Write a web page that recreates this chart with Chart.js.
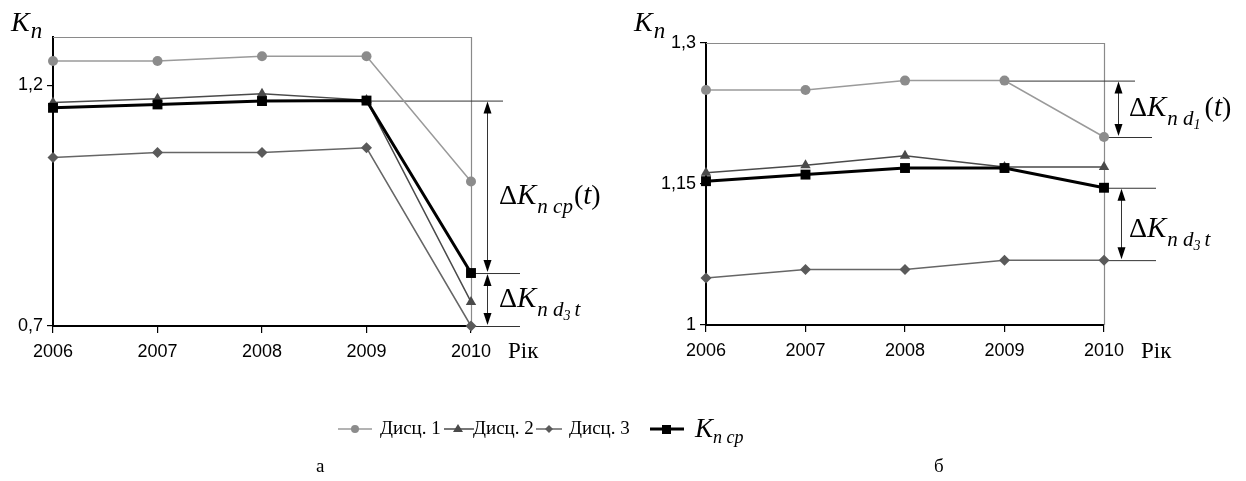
<!DOCTYPE html>
<html>
<head>
<meta charset="utf-8">
<script src="https://cdn.jsdelivr.net/npm/chart.js@4/dist/chart.umd.min.js"></script>
<style>
  body { margin: 0; background: #fff; }
  #page { position: relative; width: 1246px; height: 481px; overflow: hidden; font-family: 'Liberation Serif', serif; }
  canvas { position: absolute; top: 0; }
  .leg { position: absolute; top: 415px; font-size: 19px; line-height: 26px; color: #000; white-space: nowrap; }
  .leg svg { position: absolute; top: 0; }
  .cap { position: absolute; top: 455px; font-size: 19px; }
</style>
</head>
<body>
<div id="page">
  <canvas id="chartA" width="623" height="481" style="left:0"></canvas>
  <canvas id="chartB" width="623" height="481" style="left:623px"></canvas>

  <div class="leg" style="left:337px"><svg width="36" height="26"><line x1="1" y1="14" x2="35" y2="14" stroke="#9a9a9a" stroke-width="1.5"/><circle cx="18" cy="14" r="4" fill="#8c8c8c"/></svg><span style="margin-left:43px">Дисц. 1</span></div>
  <div class="leg" style="left:443px"><svg width="32" height="26"><line x1="1" y1="14" x2="31" y2="14" stroke="#4a4a4a" stroke-width="1.5"/><polygon points="15,9 20,17 10,17" fill="#4a4a4a"/></svg><span style="margin-left:30px">Дисц. 2</span></div>
  <div class="leg" style="left:535px"><svg width="28" height="26"><line x1="1" y1="14" x2="27" y2="14" stroke="#666" stroke-width="1.5"/><polygon points="14,10 18,14 14,18 10,14" fill="#5a5a5a"/></svg><span style="margin-left:34px">Дисц. 3</span></div>
  <div class="leg" style="left:649px"><svg width="36" height="26"><line x1="1" y1="14" x2="35" y2="14" stroke="#000" stroke-width="3"/><rect x="13" y="10" width="9" height="9" fill="#000"/></svg><span style="margin-left:46px;font-style:italic;font-size:27px">K<sub style="font-size:18px">n cp</sub></span></div>

  <div class="cap" style="left:316px">а</div>
  <div class="cap" style="left:934px">б</div>
</div>

<script>
const years = ['2006', '2007', '2008', '2009', '2010'];

// chart "а"
const disc1A = [1.25, 1.25, 1.26, 1.26, 1.0];
const disc2A = [1.164, 1.172, 1.182, 1.169, 0.75];
const disc3A = [1.05, 1.06, 1.06, 1.07, 0.7];
const avgA = [1.153, 1.16, 1.167, 1.168, 0.81];
const ticksA = [0.7, 1.2];

// chart "б"
const disc1B = [1.25, 1.25, 1.26, 1.26, 1.2];
const disc2B = [1.162, 1.17, 1.18, 1.168, 1.168];
const disc3B = [1.05, 1.059, 1.059, 1.069, 1.069];
const avgB = [1.153, 1.16, 1.167, 1.167, 1.146];
const ticksB = [1, 1.15, 1.3];

const SERIF = "'Liberation Serif', serif";

function series(d1, d2, d3, avg) {
  return [
    { label: 'Дисц. 1', data: d1, borderColor: '#9a9a9a', backgroundColor: '#8c8c8c', borderWidth: 1.5,
      pointStyle: 'circle', pointRadius: 5, pointBorderWidth: 0, order: 3, clip: false },
    { label: 'Дисц. 2', data: d2, borderColor: '#4a4a4a', backgroundColor: '#4a4a4a', borderWidth: 1.5,
      pointStyle: 'triangle', pointRadius: 6, pointBorderWidth: 0, order: 2, clip: false },
    { label: 'Дисц. 3', data: d3, borderColor: '#666', backgroundColor: '#5a5a5a', borderWidth: 1.5,
      pointStyle: 'rectRot', pointRadius: 5.5, pointBorderWidth: 0, order: 1, clip: false },
    { label: 'Kп ср', data: avg, borderColor: '#000', backgroundColor: '#000', borderWidth: 3,
      pointStyle: 'rect', pointRadius: 7, pointBorderWidth: 0, order: 0, clip: false }
  ]
}

// rich text: list of [text, font, dy, extraGap]
function rich(ctx, x, y, parts) {
  ctx.textAlign = 'left'
  ctx.textBaseline = 'alphabetic'
  parts.forEach(p => {
    ctx.font = p[1]
    ctx.fillText(p[0], x, y + (p[2] || 0))
    x += ctx.measureText(p[0]).width + (p[3] || 0)
  })
}

function hline(ctx, y, x1, x2) {
  ctx.beginPath()
  ctx.moveTo(x1, y + 0.5)
  ctx.lineTo(x2, y + 0.5)
  ctx.stroke()
}

function arrow(ctx, x, y1, y2) {
  ctx.save()
  ctx.strokeStyle = '#333'
  ctx.lineWidth = 1
  ctx.beginPath()
  ctx.moveTo(x + 0.5, y1 + 10)
  ctx.lineTo(x + 0.5, y2 - 10)
  ctx.stroke()
  ctx.fillStyle = '#000'
  ctx.beginPath()
  ctx.moveTo(x + 0.5, y1 + 1)
  ctx.lineTo(x + 4.5, y1 + 13)
  ctx.lineTo(x - 3.5, y1 + 13)
  ctx.fill()
  ctx.beginPath()
  ctx.moveTo(x + 0.5, y2 - 1)
  ctx.lineTo(x + 4.5, y2 - 13)
  ctx.lineTo(x - 3.5, y2 - 13)
  ctx.fill()
  ctx.restore()
}

function deltaLabel(ctx, x, y, sub, tail) {
  const big = '28px ' + SERIF
  const bigI = 'italic 29px ' + SERIF
  const parts = [['Δ', big], ['K', bigI, 0, 1]]
  sub.forEach(s => parts.push(s))
  if (tail) parts.push(['(', big], ['t', bigI], [')', big])
  rich(ctx, x, y, parts)
}

function makeChart(id, sets, yMin, yMax, ticks, geo, annotate) {
  const framePlugin = {
    id: 'frame' + id,
    beforeDatasetsDraw(chart) {
      const { ctx, chartArea: a } = chart
      ctx.save()
      ctx.strokeStyle = '#8a8a8a'
      ctx.lineWidth = 1.2
      ctx.beginPath()
      ctx.moveTo(a.left, a.top + 0.5)
      ctx.lineTo(a.right + 0.5, a.top + 0.5)
      ctx.lineTo(a.right + 0.5, a.bottom)
      ctx.stroke()
      ctx.strokeStyle = '#333'
      ctx.lineWidth = 1
      annotate.lines(chart, ctx)
      ctx.restore()
    },
    afterDraw(chart) {
      const { ctx, chartArea: a } = chart
      ctx.save()
      ctx.fillStyle = '#000'
      rich(ctx, 11, 31, [['K', 'italic 28px ' + SERIF, 0, 1], ['n', 'italic 23px ' + SERIF, 7]])
      ctx.font = '23px ' + SERIF
      ctx.textBaseline = 'middle'
      ctx.fillText('Рік', a.right + 37, 352)
      annotate.marks(chart, ctx)
      ctx.restore()
    }
  }

  return new Chart(document.getElementById(id), {
    type: 'line',
    data: { labels: years, datasets: sets },
    options: {
      responsive: false,
      animation: false,
      layout: { padding: { left: 0, top: geo.top, right: geo.right, bottom: 481 - geo.bottom - 40 } },
      plugins: { legend: { display: false }, tooltip: { enabled: false } },
      elements: { line: { tension: 0 } },
      scales: {
        x: {
          grid: { drawOnChartArea: false, tickLength: 7, color: '#000', lineWidth: 1.2 },
          border: { color: '#000', width: 2 },
          ticks: { color: '#000', padding: 8, maxRotation: 0, font: { family: 'Liberation Sans', size: 18 } },
          afterFit: s => { s.height = 40 }
        },
        y: {
          min: yMin,
          max: yMax,
          afterBuildTicks: s => { s.ticks = ticks.map(v => ({ value: v })) },
          grid: { drawOnChartArea: false, tickLength: 6, color: '#000', lineWidth: 1.2 },
          border: { color: '#000', width: 2 },
          ticks: {
            color: '#000', padding: 4, font: { family: 'Liberation Sans', size: 18 },
            callback: v => String(v).replace('.', ',')
          },
          afterFit: s => { s.width = geo.left }
        }
      }
    },
    plugins: [framePlugin]
  })
}

makeChart('chartA', series(disc1A, disc2A, disc3A, avgA), 0.7, 1.3, ticksA,
  { left: 53, top: 37, right: 623 - 471, bottom: 326 },
  {
    lines(chart, ctx) {
      const x = chart.scales.x, y = chart.scales.y
      hline(ctx, y.getPixelForValue(avgA[3]), x.getPixelForValue(3), x.right + 32)
      hline(ctx, y.getPixelForValue(avgA[4]), x.getPixelForValue(4), x.right + 49)
      hline(ctx, y.getPixelForValue(disc3A[4]), x.getPixelForValue(4), x.right + 49)
    },
    marks(chart, ctx) {
      const x = chart.scales.x, y = chart.scales.y
      const ax = x.right + 16
      const y1 = y.getPixelForValue(avgA[3]), y2 = y.getPixelForValue(avgA[4]), y3 = y.getPixelForValue(disc3A[4])
      arrow(ctx, ax, y1, y2)
      arrow(ctx, ax, y2, y3)
      deltaLabel(ctx, x.right + 28, 204, [['n cp', 'italic 21px ' + SERIF, 9, 1]], true)
      deltaLabel(ctx, x.right + 28, 307, [['n d', 'italic 21px ' + SERIF, 9], ['3', 'italic 14px ' + SERIF, 13, 4], ['t', 'italic 21px ' + SERIF, 9]], false)
    }
  })

makeChart('chartB', series(disc1B, disc2B, disc3B, avgB), 1, 1.3, ticksB,
  { left: 83, top: 43, right: 623 - 481, bottom: 325 },
  {
    lines(chart, ctx) {
      const x = chart.scales.x, y = chart.scales.y
      hline(ctx, y.getPixelForValue(disc1B[3]), x.getPixelForValue(3), x.right + 31)
      hline(ctx, y.getPixelForValue(disc1B[4]), x.getPixelForValue(4), x.right + 48)
      hline(ctx, y.getPixelForValue(avgB[4]), x.getPixelForValue(4), x.right + 52)
      hline(ctx, y.getPixelForValue(disc3B[4]), x.getPixelForValue(4), x.right + 52)
    },
    marks(chart, ctx) {
      const x = chart.scales.x, y = chart.scales.y
      arrow(ctx, x.right + 14, y.getPixelForValue(disc1B[3]), y.getPixelForValue(disc1B[4]))
      arrow(ctx, x.right + 17, y.getPixelForValue(avgB[4]), y.getPixelForValue(disc3B[4]))
      deltaLabel(ctx, x.right + 25, 116, [['n d', 'italic 21px ' + SERIF, 9], ['1', 'italic 14px ' + SERIF, 13, 4]], true)
      deltaLabel(ctx, x.right + 25, 237, [['n d', 'italic 21px ' + SERIF, 9], ['3', 'italic 14px ' + SERIF, 13, 4], ['t', 'italic 21px ' + SERIF, 9]], false)
    }
  })
</script>
</body>
</html>
